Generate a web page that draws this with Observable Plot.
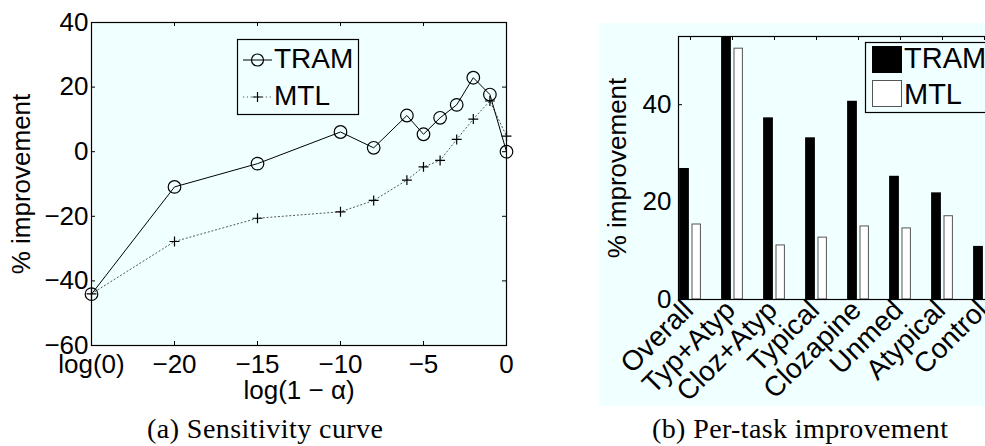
<!DOCTYPE html>
<html><head><meta charset="utf-8">
<script src="https://cdn.jsdelivr.net/npm/d3@7"></script>
<script src="https://cdn.jsdelivr.net/npm/@observablehq/plot@0.6"></script>
<style>
html,body{margin:0;padding:0;background:#fff;overflow:hidden;width:985px;height:446px;}
#root{position:relative;width:985px;height:446px;font-family:"Liberation Sans",Arial,Helvetica,sans-serif;}
#right{position:absolute;left:599px;top:23px;width:386px;height:383px;overflow:hidden;}
#overlay{position:absolute;left:0;top:0;pointer-events:none;}
</style></head><body><div id="root"><div id="right"></div></div>
<script>
// ---- data: (a) sensitivity curve ----
const alphaX = [-25, -20, -15, -10, -8, -6, -5, -4, -3, -2, -1, 0];
const tramSens = [-44.1, -10.9, -3.7, 6.1, 1.2, 11.2, 5.4, 10.5, 14.5, 22.9, 17.7, 0];
const mtlSens = [-44.0, -27.8, -20.6, -18.6, -15.1, -8.8, -4.7, -2.7, 3.8, 10.1, 15.7, 4.8];
const xTicksA = [-25, -20, -15, -10, -5, 0];
const xTickLabelsA = ["log(0)", "\u221220", "\u221215", "\u221210", "\u22125", "0"];
const yTicksA = [-60, -40, -20, 0, 20, 40];
const yTickLabelsA = ["\u221260", "\u221240", "\u221220", "0", "20", "40"];
// ---- data: (b) per-task improvement ----
const tasks = ["Overall", "Typ+Atyp", "Cloz+Atyp", "Typical", "Clozapine", "Unmed", "Atypical", "Control"];
const tramTask = [26.9, 54.5, 37.3, 33.2, 40.7, 25.3, 21.9, 10.9];
const mtlTask = [15.4, 51.5, 11.1, 12.7, 15.0, 14.6, 17.1, 6.4];
const yTicksB = [0, 20, 40];
const seriesNames = ["TRAM", "MTL"];

const BG = "#f0ffff";
const FONT = '"Liberation Sans", Arial, Helvetica, sans-serif';
const FS = 26;

// ---------- chart (a) ----------
const sens = alphaX.map((x, i) => ({x, tram: tramSens[i], mtl: mtlSens[i]}));
const W1 = 520, H1 = 446, mL1 = 91, mR1 = 14, mT1 = 22, mB1 = 101;
const pw1 = W1 - mL1 - mR1, ph1 = H1 - mT1 - mB1;
const chartA = Plot.plot({
  width: W1, height: H1,
  marginLeft: mL1, marginRight: mR1, marginTop: mT1, marginBottom: mB1,
  style: {fontFamily: FONT, fontSize: FS + "px", background: "transparent", color: "black", maxWidth: "none", position: "absolute", left: "0px", top: "0px"},
  x: {domain: [-25, 0]},
  y: {domain: [-60, 40]},
  marks: [
    Plot.frame({fill: BG}),
    Plot.axisX({ticks: xTicksA, tickFormat: d => xTickLabelsA[xTicksA.indexOf(d)], tickSize: 0, tickPadding: 9, label: null, fontSize: FS}),
    Plot.axisY({ticks: yTicksA, tickFormat: d => yTickLabelsA[yTicksA.indexOf(d)], tickSize: 0, tickPadding: 3, label: null, fontSize: FS}),
    Plot.tickX(xTicksA, {x: d => d, stroke: "black", insetTop: ph1 - 4}),
    Plot.tickX(xTicksA, {x: d => d, stroke: "black", insetBottom: ph1 - 4}),
    Plot.tickY(yTicksA, {y: d => d, stroke: "black", insetRight: pw1 - 4}),
    Plot.tickY(yTicksA, {y: d => d, stroke: "black", insetLeft: pw1 - 4}),
    Plot.line(sens, {x: "x", y: "mtl", stroke: "#555", strokeWidth: 1, strokeDasharray: "1.2 2.6"}),
    Plot.line(sens, {x: "x", y: "tram", stroke: "black", strokeWidth: 1}),
    Plot.dot(sens, {x: "x", y: "mtl", symbol: "plus", r: 3.3, stroke: "black", strokeWidth: 1.2}),
    Plot.dot(sens, {x: "x", y: "tram", r: 6.3, stroke: "black", fill: "none", strokeWidth: 1.2}),
    Plot.frame({stroke: "black", strokeWidth: 1.2}),
    Plot.text(["log(1 \u2212 \u03b1)"], {frameAnchor: "bottom", textAnchor: "middle", lineAnchor: "middle", dy: 45, fontSize: FS}),
    Plot.text(["% improvement"], {frameAnchor: "left", textAnchor: "middle", lineAnchor: "middle", rotate: -90, dx: -70, fontSize: FS})
  ]
});
document.getElementById("root").prepend(chartA);

// ---------- chart (b) ----------
const taskData = tasks.map((t, i) => ({task: t, tram: tramTask[i], mtl: mtlTask[i]}));
const W2 = 420, H2 = 383, mL2 = 79, mR2 = 24, mT2 = 13, mB2 = 107;
const pw2 = W2 - mL2 - mR2, ph2 = H2 - mT2 - mB2;
const band = 42.2, startOff = 10.1;
const chartB = Plot.plot({
  width: W2, height: H2,
  marginLeft: mL2, marginRight: mR2, marginTop: mT2, marginBottom: mB2,
  style: {fontFamily: FONT, fontSize: FS + "px", background: BG, color: "black", maxWidth: "none", position: "absolute", left: "0px", top: "0px"},
  x: {type: "band", domain: tasks, range: [mL2 - startOff, mL2 - startOff + band * tasks.length], padding: 0, axis: null},
  y: {domain: [0, 54]},
  marks: [
    Plot.barY(taskData, {x: "task", y: "tram", fill: "black", insetLeft: 10.1, insetRight: 22.1, clip: true}),
    Plot.barY(taskData, {x: "task", y: "mtl", fill: "white", stroke: "#555", strokeWidth: 1, insetLeft: 23, insetRight: 10.6, clip: true}),
    Plot.axisY({ticks: yTicksB, tickSize: 0, tickPadding: 7, label: null, fontSize: FS}),
    Plot.tickY(yTicksB, {y: d => d, stroke: "black", insetRight: pw2 - 4}),
    Plot.tickX(tasks, {x: d => d, stroke: "black", insetBottom: ph2 - 4}),
    Plot.frame({stroke: "black", strokeWidth: 1.2}),
    Plot.text(tasks, {x: d => d, frameAnchor: "bottom", rotate: -45, textAnchor: "end", lineAnchor: "middle", dx: -2, dy: 6, fontSize: 28}),
    Plot.text(["% improvement"], {frameAnchor: "left", textAnchor: "middle", lineAnchor: "middle", rotate: -90, dx: -61, fontSize: FS})
  ]
});
document.getElementById("right").append(chartB);

// ---------- legends & captions overlay ----------
const NS = "http://www.w3.org/2000/svg";
const ov = document.createElementNS(NS, "svg");
ov.setAttribute("id", "overlay");
ov.setAttribute("width", 985); ov.setAttribute("height", 446);
function el(tag, attrs, text) {
  const e = document.createElementNS(NS, tag);
  for (const k in attrs) e.setAttribute(k, attrs[k]);
  if (text != null) e.textContent = text;
  ov.appendChild(e);
  return e;
}
const LFS = 28;
// legend (a)
el("rect", {x: 237.5, y: 39.5, width: 121, height: 75, fill: BG, stroke: "black", "stroke-width": 1.2});
el("line", {x1: 243, x2: 272, y1: 60, y2: 60, stroke: "black", "stroke-width": 1});
el("circle", {cx: 257.5, cy: 60, r: 6, fill: "none", stroke: "black", "stroke-width": 1.2});
el("line", {x1: 243, x2: 272, y1: 97, y2: 97, stroke: "#555", "stroke-width": 1, "stroke-dasharray": "1.2 2.6"});
el("path", {d: "M252.5,97H262.5M257.5,92V102", stroke: "black", "stroke-width": 1.2});
el("text", {x: 274, y: 68, "font-family": FONT, "font-size": LFS}, seriesNames[0]);
el("text", {x: 274, y: 105, "font-family": FONT, "font-size": LFS}, seriesNames[1]);
// legend (b)
el("rect", {x: 865.5, y: 42.5, width: 140, height: 70, fill: BG, stroke: "black", "stroke-width": 1.2});
el("rect", {x: 872, y: 46, width: 30, height: 27, fill: "black"});
el("rect", {x: 872.5, y: 80.5, width: 29, height: 26, fill: "white", stroke: "#555", "stroke-width": 1});
el("text", {x: 904, y: 68, "font-family": FONT, "font-size": 29}, seriesNames[0]);
el("text", {x: 904, y: 104, "font-family": FONT, "font-size": 29}, seriesNames[1]);
// captions
const SERIF = '"Liberation Serif", "Times New Roman", serif';
el("text", {x: 265, y: 438, "text-anchor": "middle", "font-family": SERIF, "font-size": 28, textLength: 236, lengthAdjust: "spacing"}, "(a) Sensitivity curve");
el("text", {x: 800, y: 438, "text-anchor": "middle", "font-family": SERIF, "font-size": 28, textLength: 296, lengthAdjust: "spacing"}, "(b) Per-task improvement");
document.getElementById("root").append(ov);
</script>
</body></html>
